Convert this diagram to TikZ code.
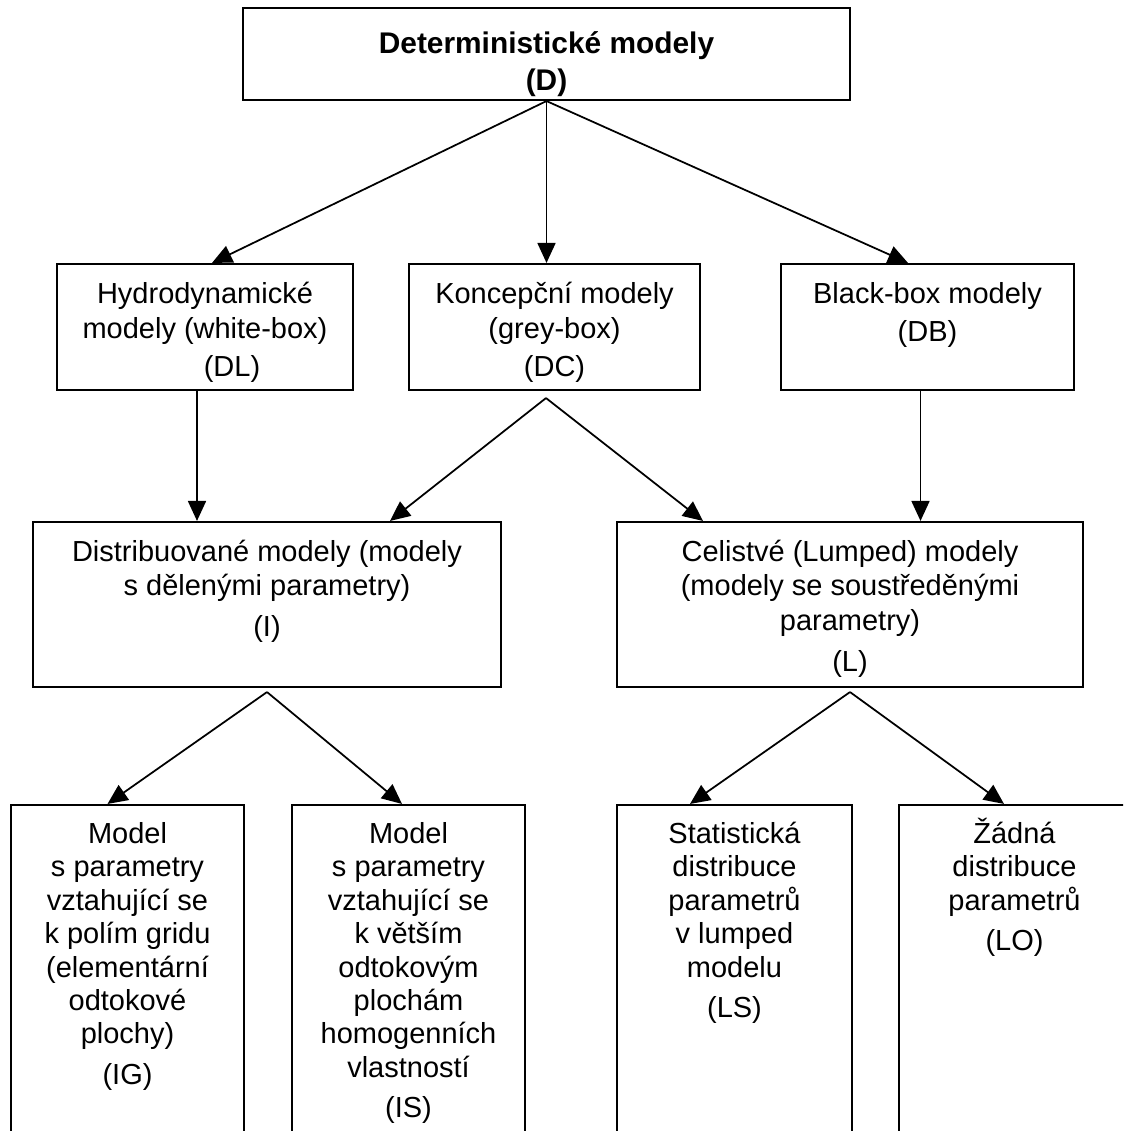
\documentclass[tikz,border=0pt]{standalone}
\usepackage{fontspec}
\setmainfont{Liberation Sans}
\usetikzlibrary{arrows.meta,calc}
\newlength\pxlen
\setlength\pxlen{0.02cm}
\newcommand{\boxtext}[4]{\parbox[c][#2\pxlen][t]{#1\pxlen}{\centering\rule{0pt}{#3\pxlen}#4}}
\begin{document}
\begin{tikzpicture}[x=0.02cm,y=-0.02cm]
              \tikzstyle{every node}+=[inner sep=0pt]
              \tikzstyle{mbox}=[draw=black, line width=1.2pt, font=\fontsize{16.5pt}{19.9pt}\selectfont]
              \tikzstyle{leaf}=[mbox, font=\fontsize{16.5pt}{19pt}\selectfont]
              \tikzstyle{arr}=[black, line width=1pt, -{Triangle[length=0.4cm,width=0.36cm]}]
              \useasboundingbox (0,0) rectangle (1123,1131);
              \clip (0,0) rectangle (1123,1131);
              \node [mbox, font=\bfseries\fontsize{17pt}{19.9pt}\selectfont] (d) at (546.5,54) {\boxtext{607}{92}{46}{Deterministické modely\\[2\pxlen](D)}};
              \node [mbox] (dl) at (205,327) {\boxtext{296}{126}{40}{Hydrodynamické\\modely (white-box)\\[3\pxlen]\hspace*{54\pxlen}(DL)}};
              \node [mbox] (dc) at (554.5,327) {\boxtext{291}{126}{40}{Koncepční modely\\(grey-box)\\[3\pxlen](DC)}};
              \node [mbox] (db) at (927.5,327) {\boxtext{293}{126}{40}{Black-box modely\\[3\pxlen](DB)}};
              \node [mbox] (i) at (267,604.5) {\boxtext{468}{165}{39}{Distribuované modely (modely\\s dělenými parametry)\\[6\pxlen](I)}};
              \node [mbox] (l) at (850,604.5) {\boxtext{466}{165}{39}{Celistvé (Lumped) modely\\(modely se soustředěnými\\parametry)\\[6\pxlen](L)}};
              \node [leaf] (ig) at (127.5,975) {\boxtext{233}{340}{38.5}{Model\\s parametry\\vztahující se\\k polím gridu\\(elementární\\odtokové\\plochy)\\[7\pxlen](IG)}};
              \node [leaf] (is) at (408.5,975) {\boxtext{233}{340}{38.5}{Model\\s parametry\\vztahující se\\k větším\\odtokovým\\plochám\\homogenních\\vlastností\\[7\pxlen](IS)}};
              \node [leaf] (ls) at (734.5,975) {\boxtext{235}{340}{38.5}{Statistická\\distribuce\\parametrů\\v lumped\\modelu\\[7\pxlen](LS)}};
              \node [leaf] (lo) at (1014.5,975) {\boxtext{231}{340}{38.5}{Žádná\\distribuce\\parametrů\\[7\pxlen](LO)}};
              \draw [arr] (d.south) -- ($(dl.north)+(7,0)$);
              \draw [arr] (d.south) -- (d.south |- dc.north);
              \draw [arr] (d.south) -- ($(db.north)+(-19.5,0)$);
              \coordinate (dlfoot) at ($(dl.south)+(-8,0)$);
              \draw [arr] (dlfoot) -- (dlfoot |- i.north);
              \coordinate (dcapex) at ($(dc.south)+(-8.5,7)$);
              \draw [arr] (dcapex) -- ($(i.north)+(123,0)$);
              \draw [arr] (dcapex) -- ($(l.north)+(-147,0)$);
              \coordinate (dbfoot) at ($(db.south)+(-7,0)$);
              \draw [arr] (dbfoot) -- (dbfoot |- l.north);
              \coordinate (iapex) at ($(i.south)+(0,4)$);
              \draw [arr] (iapex) -- ($(ig.north)+(-20,0)$);
              \draw [arr] (iapex) -- ($(is.north)+(-6.5,0)$);
              \coordinate (lapex) at ($(l.south)+(0,4)$);
              \draw [arr] (lapex) -- ($(ls.north)+(-44.5,0)$);
              \draw [arr] (lapex) -- ($(lo.north)+(-10.5,0)$);
\end{tikzpicture}
\end{document}
